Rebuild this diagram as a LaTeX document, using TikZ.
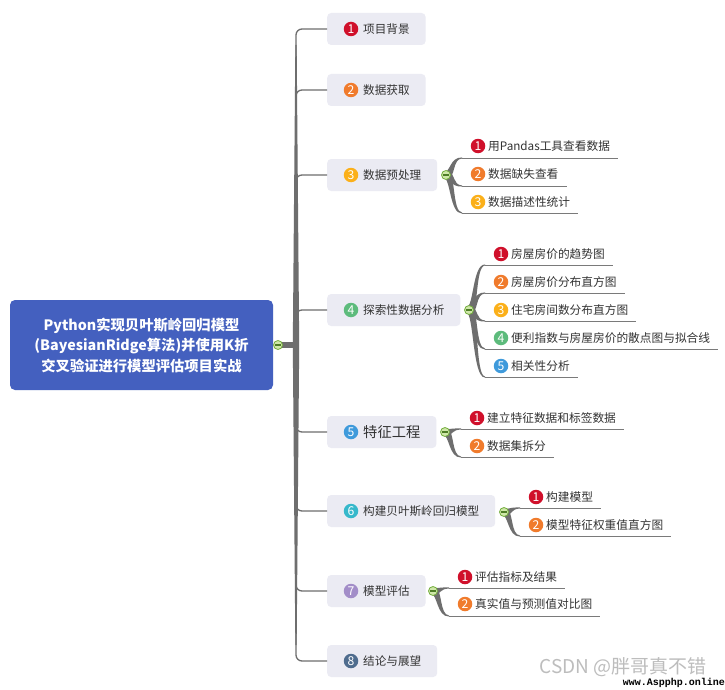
\documentclass[tikz,border=0pt]{standalone}
\usepackage{fontspec}
\setmainfont{Noto Sans CJK SC}
\newfontfamily\wmmono{Liberation Mono}
\usetikzlibrary{calc}
\definecolor{linkc}{HTML}{6E6E6E}
\definecolor{ulinec}{HTML}{7A7A7A}
\definecolor{boxc}{HTML}{EBEBF3}
\definecolor{rootc}{HTML}{4460BF}
\definecolor{txtc}{HTML}{333333}
\definecolor{c1}{HTML}{D0102B}
\definecolor{c2}{HTML}{F07B2C}
\definecolor{c3}{HTML}{FBB01A}
\definecolor{c4}{HTML}{5DBB7C}
\definecolor{c5}{HTML}{3F9ADB}
\definecolor{c6}{HTML}{36B8CB}
\definecolor{c7}{HTML}{A28DC8}
\definecolor{c8}{HTML}{4F6C8E}
\definecolor{colfill}{HTML}{CFE7A9}
\definecolor{coldraw}{HTML}{74AE3E}
\definecolor{colminus}{HTML}{4E7D26}
\definecolor{wmc}{HTML}{BDBDBD}

\tikzset{
  mainbox/.style={fill=boxc, rounded corners=4pt, minimum height=32pt, inner xsep=16pt, inner ysep=0pt, anchor=west, text=txtc, font=\fontsize{11.6}{14}\selectfont},
  rootbox/.style={fill=rootc, rounded corners=5pt, minimum width=263pt, minimum height=90pt, text=white, align=center, font=\bfseries\fontsize{14.3}{20.5}\selectfont},
  numc/.style={circle, inner sep=0pt, minimum size=14.5pt, text=white, font=\fontsize{12.2}{13}\selectfont},
  subtxt/.style={anchor=west, inner sep=0pt, text=txtc, font=\fontsize{11.7}{14}\selectfont},
  uline/.style={draw=ulinec, line width=1pt},
  collapse/.style={circle, inner sep=0pt, minimum size=9pt, fill=colfill, draw=coldraw, line width=0.8pt,
    path picture={\draw[colminus, line width=1.1pt] ([xshift=-2.6pt]path picture bounding box.center) -- ([xshift=2.6pt]path picture bounding box.center);}},
  branch/.style={draw=linkc, line width=1.3pt, rounded corners=6pt},
}

% tapered curve from a collapse point to the start of an underline
\newcommand\taper[2]{%
  \fill[linkc] let \p1=(#1), \p2=(#2), \n1={sign(\y2-\y1)} in
    ({\x1-\n1*2.6pt},{\y1+2.6pt}) .. controls ({\x1+7pt-\n1*2.3pt},{\y1+2.3pt}) and ({\x1+5pt-\n1*1.5pt},{\y2+0.8pt}) .. ({\x2},{\y2+0.55pt})
    -- ({\x2},{\y2-0.55pt}) .. controls ({\x1+5pt+\n1*1.5pt},{\y2-0.8pt}) and ({\x1+7pt+\n1*2.3pt},{\y1-2.3pt}) .. ({\x1+\n1*2.6pt},{\y1-2.6pt}) -- cycle;}

% main topic: name, y, number, colour, text
\newcommand\mmmain[5]{%
  \node[mainbox] (#1) at (327,#2) {\hspace*{20pt}#5};
  \node[numc, fill=#4] (#1n) at ($(#1.west)+(24,0)$) {#3};
  \draw[branch] (rk) -- (rj) |- (#1.west);
}

% sub topic: name, collapse coordinate, collapse x, text y, underline y, number, colour, text
\newcommand\mmsub[8]{%
  \coordinate (#1u) at ({#3+16},{#5});
  \node[numc, fill=#7] (#1n) at ({#3+32},{#4}) {#6};
  \node[subtxt] (#1) at ({#3+42},{#4}) {#8};
  \taper{#2}{#1u}
  \draw[uline] (#1u) -- ($(#1.east |- #1u)+(8,0)$);
}

\begin{document}
\begin{tikzpicture}[x=1pt, y=-1pt]
\useasboundingbox (0,0) rectangle (725,690);
\fill[white] (0,0) rectangle (725,690);

% root
\node[rootbox] (root) at (141.5,345) {Python实现贝叶斯岭回归模型\\(BayesianRidge算法)并使用K折\\交叉验证进行模型评估项目实战};
\coordinate (rk) at (278,345);
\coordinate (rj) at (296,345);

% trunk thickness near the root
\fill[linkc] (292.8,345) -- (295.35,45) -- (296.65,45) -- (299.2,345) -- (296.65,645) -- (295.35,645) -- cycle;
\fill[linkc] (278,342.3) rectangle (294,347.7);

% main topics
\mmmain{m1}{29}{1}{c1}{项目背景}
\mmmain{m2}{90}{2}{c2}{数据获取}
\mmmain{m3}{175}{3}{c3}{数据预处理}
\mmmain{m4}{310}{4}{c4}{探索性数据分析}
\mmmain{m5}{432}{5}{c5}{{\fontsize{14.3}{16}\selectfont 特征工程}}
\mmmain{m6}{511}{6}{c6}{构建贝叶斯岭回归模型}
\mmmain{m7}{591}{7}{c7}{模型评估}
\mmmain{m8}{661}{8}{c8}{结论与展望}

% collapse points
\coordinate (k3) at (446,175);
\coordinate (k4) at (469,310);
\coordinate (k5) at (445,432);
\coordinate (k6) at (504,512);
\coordinate (k7) at (433,591);

% sub topics
\mmsub{s31}{k3}{446}{146}{158}{1}{c1}{用Pandas工具查看数据}
\mmsub{s32}{k3}{446}{174}{186}{2}{c2}{数据缺失查看}
\mmsub{s33}{k3}{446}{202}{213}{3}{c3}{数据描述性统计}

\mmsub{s41}{k4}{469}{254}{265}{1}{c1}{房屋房价的趋势图}
\mmsub{s42}{k4}{469}{282}{293}{2}{c2}{房屋房价分布直方图}
\mmsub{s43}{k4}{469}{310}{321}{3}{c3}{住宅房间数分布直方图}
\mmsub{s44}{k4}{469}{338}{349}{4}{c4}{便利指数与房屋房价的散点图与拟合线}
\mmsub{s45}{k4}{469}{366}{377}{5}{c5}{相关性分析}

\mmsub{s51}{k5}{445}{418}{429}{1}{c1}{建立特征数据和标签数据}
\mmsub{s52}{k5}{445}{446}{457}{2}{c2}{数据集拆分}

\mmsub{s61}{k6}{504}{497}{508}{1}{c1}{构建模型}
\mmsub{s62}{k6}{504}{525}{536}{2}{c2}{模型特征权重值直方图}

\mmsub{s71}{k7}{433}{577}{588}{1}{c1}{评估指标及结果}
\mmsub{s72}{k7}{433}{604}{616}{2}{c2}{真实值与预测值对比图}

% collapse buttons on top
\node[collapse] (rkc) at (rk) {};
\node[collapse] (k3c) at (k3) {};
\node[collapse] (k4c) at (k4) {};
\node[collapse] (k5c) at (k5) {};
\node[collapse] (k6c) at (k6) {};
\node[collapse] (k7c) at (k7) {};

% watermark
\node[text=wmc, inner sep=0pt, font=\fontsize{19}{22}\selectfont] (wm1) at (623,667) {CSDN @胖哥真不错};
\node[anchor=east, inner sep=0pt, font=\wmmono\bfseries\fontsize{10}{12}\selectfont] (wm2) at (725,683) {www.Aspphp.online};
\end{tikzpicture}
\end{document}
